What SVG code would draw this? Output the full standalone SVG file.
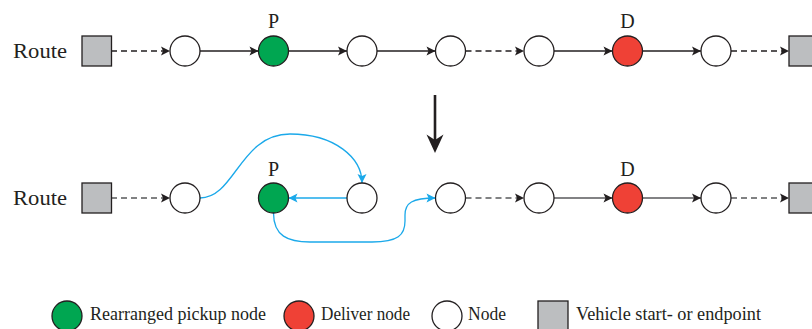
<svg xmlns="http://www.w3.org/2000/svg" width="812" height="329" viewBox="0 0 812 329">
<defs>
<style>
.txt{font-family:"Liberation Serif","DejaVu Serif",serif;fill:#231f20}
.lbl{font-size:20px}
.lg{font-size:18px}
.n{stroke:#231f20;stroke-width:1.3}
.w{fill:#fff}
.g{fill:#00a651}
.r{fill:#ef4136}
.sq{fill:#bcbec0}
.e{fill:none;stroke:#231f20;stroke-width:1.3}
.e2{fill:none;stroke:#58595b;stroke-width:1.5}
.d{stroke-dasharray:6,4}
.b{fill:none;stroke:#1ba9ea;stroke-width:1.3}
</style>
<marker id="ah" markerWidth="12" markerHeight="10" refX="10" refY="5" orient="auto" markerUnits="userSpaceOnUse">
<path d="M10,5 L1,0.5 L3,5 L1,9.5 Z" fill="#231f20"/>
</marker>
<marker id="ahb" markerWidth="12" markerHeight="10" refX="10" refY="5" orient="auto" markerUnits="userSpaceOnUse">
<path d="M10,5 L1,0.5 L3,5 L1,9.5 Z" fill="#1ba9ea"/>
</marker>
</defs>
<rect width="812" height="329" fill="#fff"/>

<g id="connectors">
<!-- top row -->
<line class="e d" x1="111" y1="51" x2="170" y2="51" marker-end="url(#ah)"/>
<line class="e" x1="200" y1="51" x2="258.5" y2="51" marker-end="url(#ah)"/>
<line class="e" x1="288.5" y1="51" x2="347" y2="51" marker-end="url(#ah)"/>
<line class="e" x1="377" y1="51" x2="435.5" y2="51" marker-end="url(#ah)"/>
<line class="e d" x1="465.5" y1="51" x2="524" y2="51" marker-end="url(#ah)"/>
<line class="e" x1="554" y1="51" x2="612.5" y2="51" marker-end="url(#ah)"/>
<line class="e" x1="642.5" y1="51" x2="701" y2="51" marker-end="url(#ah)"/>
<line class="e d" x1="731" y1="51" x2="789" y2="51" marker-end="url(#ah)"/>
<!-- big arrow -->
<line x1="435" y1="95" x2="435" y2="142" stroke="#231f20" stroke-width="2.6"/>
<path d="M435,153 L426.5,134.5 L435,140 L443.5,134.5 Z" fill="#231f20"/>
<!-- bottom row -->
<line class="e2 d" x1="111" y1="198" x2="170" y2="198" marker-end="url(#ah)"/>
<path class="b" d="M200,198 C235,198 240,134 290,134 C335,134 362,158 362,183" marker-end="url(#ahb)"/>
<line class="b" x1="347" y1="198" x2="288.5" y2="198" marker-end="url(#ahb)"/>
<path class="b" d="M273.5,213 C273.5,236 288,242 310,242 L372,242 C398,242 405,235 405,221 L405,215 C405,203 412,198 435.5,198" marker-end="url(#ahb)"/>
<line class="e2 d" x1="465.5" y1="198" x2="524" y2="198" marker-end="url(#ah)"/>
<line class="e2" x1="554" y1="198" x2="612.5" y2="198" marker-end="url(#ah)"/>
<line class="e2" x1="642.5" y1="198" x2="701" y2="198" marker-end="url(#ah)"/>
<line class="e2 d" x1="731" y1="198" x2="789" y2="198" marker-end="url(#ah)"/>
</g>

<g id="top-row">
<text class="txt lbl" x="13" y="58" textLength="54" lengthAdjust="spacingAndGlyphs">Route</text>
<g id="t-start"><rect class="n sq" x="82" y="36" width="29.5" height="30"/></g>
<g id="t-n1"><circle class="n w" cx="185" cy="51" r="15"/></g>
<g id="t-p"><circle class="n g" cx="273.5" cy="51" r="15"/><text class="txt lbl" x="273.5" y="28" text-anchor="middle">P</text></g>
<g id="t-n3"><circle class="n w" cx="362" cy="51" r="15"/></g>
<g id="t-n4"><circle class="n w" cx="450.5" cy="51" r="15"/></g>
<g id="t-n5"><circle class="n w" cx="539" cy="51" r="15"/></g>
<g id="t-d"><circle class="n r" cx="627.5" cy="51" r="15"/><text class="txt lbl" x="627.5" y="28" text-anchor="middle">D</text></g>
<g id="t-n7"><circle class="n w" cx="716" cy="51" r="15"/></g>
<g id="t-end"><rect class="n sq" x="789" y="36" width="30" height="30"/></g>
</g>

<g id="bottom-row">
<text class="txt lbl" x="13" y="205" textLength="54" lengthAdjust="spacingAndGlyphs">Route</text>
<g id="b-start"><rect class="n sq" x="82" y="183" width="29.5" height="30"/></g>
<g id="b-n1"><circle class="n w" cx="185" cy="198" r="15"/></g>
<g id="b-p"><circle class="n g" cx="273.5" cy="198" r="15"/><text class="txt lbl" x="273.5" y="176" text-anchor="middle">P</text></g>
<g id="b-n3"><circle class="n w" cx="362" cy="198" r="15"/></g>
<g id="b-n4"><circle class="n w" cx="450.5" cy="198" r="15"/></g>
<g id="b-n5"><circle class="n w" cx="539" cy="198" r="15"/></g>
<g id="b-d"><circle class="n r" cx="627.5" cy="198" r="15"/><text class="txt lbl" x="627.5" y="176" text-anchor="middle">D</text></g>
<g id="b-n7"><circle class="n w" cx="716" cy="198" r="15"/></g>
<g id="b-end"><rect class="n sq" x="789" y="183" width="30" height="30"/></g>
</g>

<g id="legend">
<g id="lg-pickup"><circle class="n g" cx="67" cy="316" r="15"/><text class="txt lg" x="90" y="320" textLength="176" lengthAdjust="spacingAndGlyphs">Rearranged pickup node</text></g>
<g id="lg-deliver"><circle class="n r" cx="299" cy="316" r="15"/><text class="txt lg" x="321" y="320" textLength="89" lengthAdjust="spacingAndGlyphs">Deliver node</text></g>
<g id="lg-node"><circle class="n w" cx="447" cy="316" r="15"/><text class="txt lg" x="468" y="320" textLength="38" lengthAdjust="spacingAndGlyphs">Node</text></g>
<g id="lg-vehicle"><rect class="n sq" x="538" y="301" width="30" height="30"/><text class="txt lg" x="576" y="320" textLength="185" lengthAdjust="spacingAndGlyphs">Vehicle start- or endpoint</text></g>
</g>
</svg>
